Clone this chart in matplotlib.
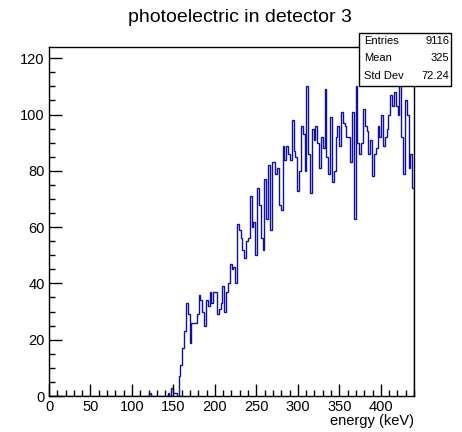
import numpy as np
import matplotlib
matplotlib.use("Agg")
import matplotlib.pyplot as plt
from matplotlib.patches import Rectangle
from matplotlib.ticker import MultipleLocator

plt.rcParams['font.family'] = ['Liberation Sans', 'DejaVu Sans']

# Histogram: 200 bins of 2.2 keV between 0 and 440 keV
n_bins = 200
e_min, e_max = 0.0, 440.0
first_bin = 55  # counts below this bin are all zero

# counts, bin 55 .. 199
counts_read = [
    1, 0, 0, 0, 0, 0, 0, 0, 0, 0, 1, 0, 3, 1, 1, 0,
    7, 11, 17, 23, 33, 29, 19, 26, 26, 26, 29, 36, 34, 30, 25, 34, 32, 37, 33, 37,
    37, 29, 31, 33, 39, 30, 37, 40,
    47, 45, 46, 40,
    61, 59, 56, 52, 49, 55, 56,
    71, 60, 62, 50, 74, 68, 56, 52, 77, 63, 82, 59, 83, 83, 79, 81, 68, 66, 89, 84,
    89, 86, 84, 98, 87, 85, 73, 80, 96, 93, 80, 110, 86, 72, 95, 91, 96, 90, 81, 92,
    88, 109, 85, 79, 99, 76, 80, 92, 96, 89, 101, 97, 96, 92, 92, 83, 101, 63, 110, 90,
    86, 90, 102, 96, 94, 86, 91, 78, 86, 88, 96, 92, 100, 89, 92, 95, 100, 107, 103, 108,
    103, 100, 118, 92, 79, 105, 100, 81, 86, 74,
]

# stats box values
stat_names = ["Entries", "Mean", "Std Dev"]
stat_values = ["9116", "325", "72.24"]

title = "photoelectric in detector 3"
x_label = "energy (keV)"

counts = np.zeros(n_bins)
counts[first_bin:first_bin + len(counts_read)] = counts_read
edges = np.linspace(e_min, e_max, n_bins + 1)

W, H = 462, 432
fig = plt.figure(figsize=(W / 100, H / 100), dpi=100)
ax = fig.add_axes([49 / W, 1 - 396 / H, (414 - 49) / W, (396 - 47) / H])

ax.stairs(counts, edges, color='#10109f', lw=1.0)

ax.set_xlim(e_min, e_max)
ax.set_ylim(0, 124)

# ROOT-like ticks: inside, left and bottom only
ax.xaxis.set_major_locator(MultipleLocator(50))
ax.xaxis.set_minor_locator(MultipleLocator(10))
ax.yaxis.set_major_locator(MultipleLocator(20))
ax.yaxis.set_minor_locator(MultipleLocator(5))
ax.tick_params(which='both', direction='in', top=False, right=False,
               labelsize=10.5, width=1)
ax.tick_params(which='major', length=9)
ax.tick_params(which='minor', length=4.5)
ax.tick_params(axis='x', pad=3)
ax.tick_params(axis='y', pad=3)
for s in ax.spines.values():
    s.set_linewidth(1)

fig.text(240 / W, 1 - 17 / H, title, ha='center', va='center', fontsize=14)
fig.text(414 / W, 1 - 421 / H, x_label, ha='right', va='center', fontsize=10.5)

# stats box
bx0, bx1, by0, by1 = 359, 451, 33, 86
fig.patches.append(Rectangle((bx0 / W + 1 / W, 1 - by1 / H - 1 / H),
                             (bx1 - bx0) / W, (by1 - by0) / H,
                             transform=fig.transFigure, facecolor='black',
                             edgecolor='black', lw=0, zorder=4))
fig.patches.append(Rectangle((bx0 / W, 1 - by1 / H), (bx1 - bx0) / W, (by1 - by0) / H,
                             transform=fig.transFigure, facecolor='white',
                             edgecolor='black', lw=1, zorder=5))
row_y = [41, 58, 76]
for name, val, y in zip(stat_names, stat_values, row_y):
    fig.text(364 / W, 1 - y / H, name, ha='left', va='center', fontsize=8, zorder=6)
    fig.text(449 / W, 1 - y / H, val, ha='right', va='center', fontsize=8, zorder=6)

fig.savefig("out.png", dpi=100)
